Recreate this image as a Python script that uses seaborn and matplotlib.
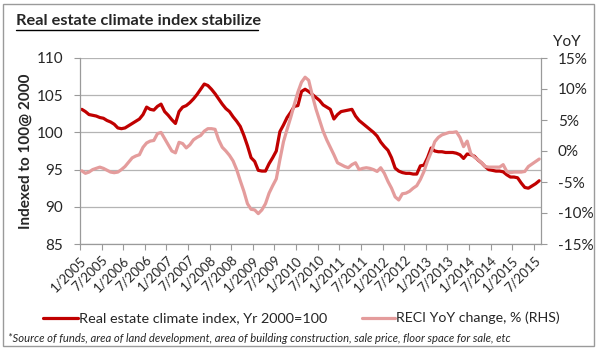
import numpy as np
import pandas as pd
import matplotlib
matplotlib.use("Agg")
import matplotlib.pyplot as plt
import seaborn as sns
from matplotlib.patches import Rectangle
from matplotlib.lines import Line2D

# Monthly data, 1/2005 .. 8/2015
index_vals = [
    103.1, 102.8, 102.4, 102.3, 102.2, 102.0, 101.9, 101.6, 101.4, 101.1, 100.6, 100.5,
    100.6, 100.9, 101.2, 101.5, 101.8, 102.4, 103.4, 103.1, 103.0, 103.5, 103.8, 102.8,
    102.3, 101.7, 101.2, 102.8, 103.4, 103.6, 104.0, 104.5, 105.1, 105.8, 106.5, 106.3,
    105.8, 105.2, 104.5, 103.8, 103.2, 102.8, 102.1, 101.5, 100.8, 99.6, 98.2, 96.6,
    96.1, 94.9, 94.8, 94.8, 95.8, 96.6, 97.5, 100.1, 101.0, 102.0, 102.7, 103.5,
    103.6, 105.5, 105.8, 105.5, 105.1, 104.7, 104.3, 103.7, 103.4, 103.1, 101.8, 102.4,
    102.8, 102.9, 103.0, 103.1, 102.2, 101.6, 101.2, 100.8, 100.4, 100.0, 99.5, 98.7,
    98.1, 97.6, 96.6, 95.2, 94.8, 94.6, 94.5, 94.5, 94.4, 94.4, 95.5, 95.6,
    96.6, 97.9, 97.5, 97.4, 97.4, 97.3, 97.3, 97.3, 97.2, 97.0, 96.5, 97.1,
    97.0, 96.8, 96.3, 95.9, 95.4, 95.0, 94.9, 94.8, 94.8, 94.7, 94.3, 94.0,
    94.0, 93.9, 93.2, 92.6, 92.5, 92.8, 93.1, 93.5,
]
yoy_vals = [
    -3.2, -3.6, -3.4, -3.0, -2.8, -2.6, -2.8, -3.1, -3.4, -3.5, -3.4, -3.0,
    -2.5, -1.8, -1.1, -0.8, -0.6, 0.6, 1.3, 1.6, 1.7, 2.8, 3.0, 2.0,
    1.0, 0.0, -0.3, 1.4, 1.2, 0.5, 1.0, 1.8, 2.2, 2.5, 3.2, 3.6,
    3.6, 3.5, 1.8, 0.6, 0.0, -0.7, -1.6, -3.0, -4.8, -6.5, -8.5, -9.4,
    -9.5, -10.1, -9.5, -8.5, -6.8, -5.6, -4.5, -1.4, 1.5, 3.5, 5.4, 7.5,
    9.5, 11.1, 11.9, 11.4, 9.0, 6.8, 5.0, 3.2, 1.8, 0.6, -0.6, -1.9,
    -2.2, -2.5, -2.7, -2.2, -1.9, -3.0, -2.8, -2.7, -2.8, -3.0, -3.3, -2.7,
    -3.6, -4.9, -6.0, -7.4, -7.9, -6.9, -6.8, -6.5, -6.0, -5.6, -4.6, -3.3,
    -1.6, -0.2, 1.5, 2.2, 2.6, 2.8, 3.0, 3.0, 3.1, 2.2, 0.7, 1.6,
    -0.4, -1.0, -1.4, -1.9, -2.5, -2.6, -2.6, -2.6, -2.6, -2.2, -3.3, -3.5,
    -3.4, -3.4, -3.4, -3.3, -2.5, -2.1, -1.7, -1.3,
]
tick_labels = [f"{m}/{y}" for y in range(2005, 2016) for m in (1, 7)]

DARK_RED = "#C00000"
PINK = "#E49C9C"
GRID = "#B4B4B4"
FONT = "Lato"

df = pd.DataFrame({"month": np.arange(len(index_vals)),
                   "index": index_vals, "yoy": yoy_vals})

sns.set_style("white")
plt.rcParams["font.family"] = [FONT, "DejaVu Sans"]

fig = plt.figure(figsize=(6, 3.57), dpi=100)
fig.patches.append(Rectangle((3 / 600, 1 - 346 / 357), 591 / 600, 342 / 357,
                             transform=fig.transFigure, fill=False,
                             edgecolor="#9a9a9a", linewidth=1.0))

ax = fig.add_axes([80 / 600, 1 - 244 / 357, 461 / 600, 186 / 357])
ax2 = ax.twinx()

sns.lineplot(data=df, x="month", y="index", ax=ax, color=DARK_RED, linewidth=2.3)
sns.lineplot(data=df, x="month", y="yoy", ax=ax2, color=PINK, linewidth=2.3)

ax.set_xlim(-0.5, len(index_vals) - 0.5)
ax.set_ylim(85, 110)
ax.set_yticks(range(85, 111, 5))
ax.grid(axis="y", color=GRID, linewidth=0.9)
ax.set_axisbelow(True)
ax2.set_ylim(-15, 15)
ax2.set_yticks(range(-15, 16, 5))
ax2.set_yticklabels([f"{v}%" for v in range(-15, 16, 5)])

for a in (ax, ax2):
    for s in a.spines.values():
        s.set_visible(False)
ax.spines["left"].set_visible(True)
ax.spines["bottom"].set_visible(True)
ax2.spines["right"].set_visible(True)
for s in (ax.spines["left"], ax.spines["bottom"], ax2.spines["right"]):
    s.set_color("#9a9a9a")
    s.set_linewidth(0.9)

xt = [-0.5 + 6 * k for k in range(len(tick_labels))]
ax.set_xticks(xt)
ax.set_xticklabels(tick_labels, rotation=45, ha="right", va="top",
                   rotation_mode="anchor", fontsize=9.5)
ax.tick_params(axis="x", length=4, color="#9a9a9a", pad=3, bottom=True)
ax.tick_params(axis="y", length=4, color="#9a9a9a", labelsize=11, pad=8, left=True)
ax2.tick_params(axis="y", length=4, color="#9a9a9a", labelsize=11, pad=8, right=True)
ax.set_xlabel("")
ax.set_ylabel("Indexed to 100@ 2000", fontsize=11, fontweight="bold", labelpad=3)
ax2.set_ylabel("")

fig.text(553 / 600, 1 - 42 / 357, "YoY", fontsize=11, ha="left", va="center")

fig.text(16 / 600, 1 - 21 / 357, "Real estate climate index stabilize",
         fontsize=11.8, fontweight="bold", ha="left", va="center")
fig.lines.append(Line2D([16 / 600, 258 / 600], [1 - 30 / 357, 1 - 30 / 357],
                        transform=fig.transFigure, color="black", linewidth=1.0))

# legend drawn by hand to keep Excel-like spacing
ly = 1 - 318 / 357
fig.lines.append(Line2D([43 / 600, 78 / 600], [ly, ly], transform=fig.transFigure,
                        color=DARK_RED, linewidth=2.3))
fig.text(79 / 600, ly, "Real estate climate index, Yr 2000=100", fontsize=10.4,
         ha="left", va="center")
fig.lines.append(Line2D([362 / 600, 395 / 600], [ly, ly], transform=fig.transFigure,
                        color=PINK, linewidth=2.3))
fig.text(396 / 600, ly, "RECI YoY change, % (RHS)", fontsize=10.2,
         ha="left", va="center")

fig.text(8 / 600, 1 - 338 / 357,
         "*Source of funds, area of land development, area of building construction, "
         "sale price, floor space for sale, etc",
         fontsize=8.1, style="italic", ha="left", va="center")

fig.savefig("out.png", dpi=100)
